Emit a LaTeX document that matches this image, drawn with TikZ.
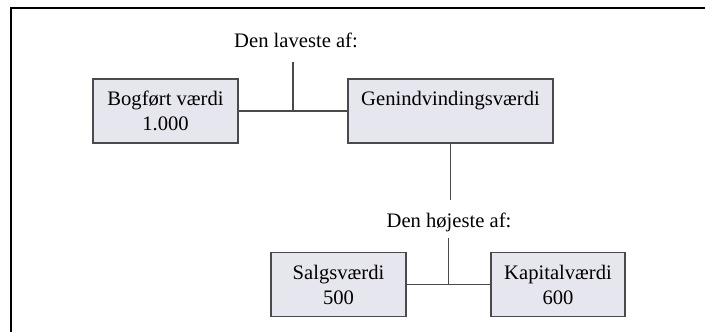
\documentclass[tikz,border=0pt]{standalone}
\usepackage{fontspec}
\setmainfont{Liberation Serif}
\usepackage{tikz}
\usetikzlibrary{positioning,calc}
\definecolor{boxfill}{HTML}{E6E6EE}
\definecolor{boxline}{HTML}{4A4A4A}

\begin{document}
\begin{tikzpicture}[x=0.5pt,y=-0.5pt,
  box/.style={draw=boxline,fill=boxfill,line width=0.9pt,minimum height=32pt,
    align=center,inner sep=2pt,font=\fontsize{10.3}{12.5}\selectfont},
  lbl/.style={inner sep=0pt,font=\fontsize{10.3}{12.5}\selectfont},
  link/.style={draw=boxline,line width=0.8pt}]
  \useasboundingbox (0,0) rectangle (705,332);
  % frame
  \draw[line width=1pt] (11,332) -- (11,8) -- (705,8);
  % boxes
  \node[box,minimum width=72.5pt] (bog) at (165.5,111) {Bogført værdi\\1.000};
  \node[box,minimum width=102.5pt] (gen) at (450.5,111) {Genindvindingsværdi\\\phantom{1.000}};
  \node[box,minimum width=67.5pt] (salg) at (338.5,284.5) {Salgsværdi\\500};
  \node[box,minimum width=67pt] (kap) at (558,284.5) {Kapitalværdi\\600};
  % labels
  \node[lbl] (lav) at (296,40) {Den laveste af:};
  \node[lbl] (hoj) at (449,222) {Den højeste af:};
  \coordinate (lowmid) at ($(bog.east)!0.5!(gen.west)$);
  \coordinate (highmid) at ($(salg.east)!0.5!(kap.west)$);
  % connectors
  \draw[link] (bog.east) -- (gen.west);
  \draw[link,shorten >=7pt] (lowmid) -- (lowmid |- lav.south);
  \draw[link,shorten >=6pt] (gen.south) -- (gen.south |- hoj.north);
  \draw[link] (salg.east) -- (kap.west);
  \draw[link,shorten >=3pt] (highmid) -- (highmid |- hoj.south);
\end{tikzpicture}
\end{document}
